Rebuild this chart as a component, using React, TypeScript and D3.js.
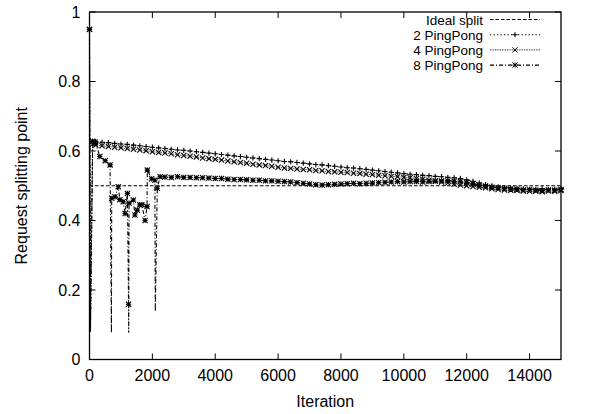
import React from "react";
import * as d3 from "d3";

// Iterations sampled by the benchmark (after the warm-up points)
const iterGrid = d3.range(200, 15001, 200);
const warmupIters = [0, 30, 100];
const warmup2 = [0.95, 0.08, 0.628];
const warmup4 = [0.95, 0.08, 0.62];

const pingPong2 = [
  0.627, 0.625, 0.624, 0.622, 0.62, 0.619, 0.617, 0.615, 0.613, 0.611,
  0.609, 0.607, 0.605, 0.603, 0.602, 0.6, 0.598, 0.596, 0.594, 0.592,
  0.59, 0.588, 0.586, 0.584, 0.582, 0.58, 0.578, 0.576, 0.574, 0.572,
  0.57, 0.569, 0.567, 0.565, 0.563, 0.561, 0.56, 0.558, 0.556, 0.554,
  0.552, 0.551, 0.549, 0.547, 0.545, 0.543, 0.541, 0.539, 0.537, 0.535,
  0.533, 0.532, 0.53, 0.529, 0.527, 0.526, 0.524, 0.523, 0.521, 0.517,
  0.513, 0.508, 0.503, 0.5, 0.497, 0.495, 0.493, 0.492, 0.491, 0.49,
  0.489, 0.491, 0.489, 0.49, 0.491,
];

const pingPong4 = [
  0.617, 0.615, 0.613, 0.611, 0.609, 0.607, 0.605, 0.603, 0.601, 0.598,
  0.596, 0.594, 0.592, 0.589, 0.587, 0.585, 0.583, 0.58, 0.578, 0.576,
  0.574, 0.571, 0.569, 0.567, 0.565, 0.562, 0.56, 0.558, 0.556, 0.553,
  0.551, 0.55, 0.548, 0.547, 0.546, 0.544, 0.543, 0.541, 0.54, 0.539,
  0.538, 0.536, 0.535, 0.533, 0.532, 0.53, 0.529, 0.527, 0.526, 0.524,
  0.523, 0.521, 0.519, 0.516, 0.514, 0.511, 0.508, 0.505, 0.502, 0.5,
  0.498, 0.496, 0.494, 0.491, 0.489, 0.488, 0.487, 0.486, 0.485, 0.484,
  0.484, 0.483, 0.485, 0.484, 0.486,
];

// 8 PingPong is unstable early on, so its first iterations are irregular
const pingPong8EarlyIters = [
  0, 30, 100, 180, 330, 500, 655, 697, 707, 810, 915, 967, 1071, 1133, 1206,
  1243, 1248, 1258, 1394, 1445, 1518, 1602, 1664, 1768, 1830, 1840, 1976, 2080,
  2093, 2157, 2245,
];
const pingPong8EarlyValues = [
  0.95, 0.08, 0.628, 0.625, 0.584, 0.572, 0.56, 0.077, 0.464, 0.468, 0.497,
  0.46, 0.454, 0.42, 0.478, 0.159, 0.077, 0.45, 0.459, 0.416, 0.43, 0.445,
  0.445, 0.4, 0.44, 0.545, 0.52, 0.516, 0.138, 0.493, 0.526,
];
const pingPong8Iters = d3.range(2400, 15001, 200);
const pingPong8 = [
  0.525, 0.524, 0.526, 0.524, 0.524, 0.523, 0.523, 0.522, 0.521,
  0.521, 0.519, 0.518, 0.518, 0.517, 0.516, 0.516, 0.514, 0.514, 0.513,
  0.512, 0.511, 0.509, 0.507, 0.505, 0.503, 0.502, 0.503, 0.504, 0.505,
  0.506, 0.507, 0.506, 0.507, 0.508, 0.509, 0.51, 0.511, 0.512, 0.511,
  0.512, 0.512, 0.511, 0.512, 0.513, 0.514, 0.514, 0.513, 0.513, 0.51,
  0.506, 0.502, 0.499, 0.496, 0.494, 0.492, 0.491, 0.49, 0.488, 0.489,
  0.487, 0.486, 0.488, 0.487, 0.489,
];

const idealSplit = 0.5;
const xTicks = [0, 2000, 4000, 6000, 8000, 10000, 12000, 14000];
const yTicks = [0, 0.2, 0.4, 0.6, 0.8, 1];

type Pt = [number, number];
const zip = (xs: number[], ys: number[]): Pt[] =>
  ys.map((v, i) => [xs[i], v] as Pt);

const width = 593,
  height = 414,
  margin = { top: 12, left: 89.5, right: 32, bottom: 54.5 };

const font = "'Liberation Sans', Arial, Helvetica, sans-serif";

function marker(kind: string, cx: number, cy: number, r: number) {
  const plus = `M${cx - r},${cy}H${cx + r}M${cx},${cy - r}V${cy + r}`;
  const cross = `M${cx - r},${cy - r}L${cx + r},${cy + r}M${cx - r},${cy + r}L${cx + r},${cy - r}`;
  if (kind === "plus") return plus;
  if (kind === "cross") return cross;
  return plus + cross;
}

export default function App() {
  const x = d3
    .scaleLinear()
    .domain([0, 15000])
    .range([margin.left, width - margin.right]);
  const y = d3
    .scaleLinear()
    .domain([0, 1])
    .range([height - margin.bottom, margin.top]);

  const line = d3
    .line<Pt>()
    .x((d) => x(d[0]))
    .y((d) => y(d[1]));

  const series = [
    {
      name: "2 PingPong",
      data: zip(warmupIters, warmup2).concat(zip(iterGrid, pingPong2)),
      dash: "1.3,2.2",
      width: 1.1,
      marker: "plus",
    },
    {
      name: "4 PingPong",
      data: zip(warmupIters, warmup4).concat(zip(iterGrid, pingPong4)),
      dash: "0.8,0.9",
      width: 1,
      marker: "cross",
    },
    {
      name: "8 PingPong",
      data: zip(pingPong8EarlyIters, pingPong8EarlyValues).concat(
        zip(pingPong8Iters, pingPong8)
      ),
      dash: "4,2,1,2",
      width: 1.1,
      marker: "star",
    },
  ];

  const x0 = x.range()[0],
    x1 = x.range()[1],
    y0 = y.range()[0],
    y1 = y.range()[1];
  const tickLen = 6;
  const legendRows = [19.5, 34.7, 49.9, 65.1];
  const legendTextX = 483,
    legendLine = [490, 540],
    legendFont = 13.5;

  return (
    <svg
      width={width}
      height={height}
      style={{ position: "absolute", left: 0, top: 0, background: "#fff" }}
      fontFamily={font}
    >
      <rect width={width} height={height} fill="#fff" />

      {/* Ideal split */}
      <line
        x1={x(0)}
        x2={x(15000)}
        y1={y(idealSplit)}
        y2={y(idealSplit)}
        stroke="#000"
        strokeWidth={1}
        strokeDasharray="3.5,2"
      />

      {series.map((s) => (
        <g key={s.name}>
          <path
            d={line(s.data) || ""}
            fill="none"
            stroke="#000"
            strokeWidth={s.width}
            strokeDasharray={s.dash}
          />
          {/* the bottoms of the sudden drops carry no point symbol */}
          <path
            d={s.data
              .filter((d) => d[1] >= 0.15)
              .map((d) => marker(s.marker, x(d[0]), y(d[1]), 2.6))
              .join("")}
            fill="none"
            stroke="#000"
            strokeWidth={1.1}
          />
        </g>
      ))}

      {/* Frame */}
      <rect
        x={x0}
        y={y1}
        width={x1 - x0}
        height={y0 - y1}
        fill="none"
        stroke="#000"
        strokeWidth={1.3}
      />

      {/* X ticks */}
      {xTicks.map((t) => (
        <g key={"x" + t}>
          <line x1={x(t)} x2={x(t)} y1={y0} y2={y0 - tickLen} stroke="#000" />
          <line x1={x(t)} x2={x(t)} y1={y1} y2={y1 + tickLen} stroke="#000" />
          <text x={x(t)} y={y0 + 21} fontSize={16} textAnchor="middle">
            {t}
          </text>
        </g>
      ))}

      {/* Y ticks */}
      {yTicks.map((t) => (
        <g key={"y" + t}>
          <line x1={x0} x2={x0 + tickLen} y1={y(t)} y2={y(t)} stroke="#000" />
          <line x1={x1} x2={x1 - tickLen} y1={y(t)} y2={y(t)} stroke="#000" />
          <text x={x0 - 9} y={y(t) + 5.5} fontSize={16} textAnchor="end">
            {t}
          </text>
        </g>
      ))}

      {/* Axis titles */}
      <text x={(x0 + x1) / 2} y={407} fontSize={16} textAnchor="middle">
        Iteration
      </text>
      <text
        transform={`translate(27, ${(y0 + y1) / 2}) rotate(-90)`}
        fontSize={16}
        textAnchor="middle"
      >
        Request splitting point
      </text>

      {/* Legend */}
      <g>
        <text
          x={legendTextX}
          y={legendRows[0] + 5}
          fontSize={legendFont}
          textAnchor="end"
        >
          Ideal split
        </text>
        <line
          x1={legendLine[0]}
          x2={legendLine[1]}
          y1={legendRows[0]}
          y2={legendRows[0]}
          stroke="#000"
          strokeDasharray="3.5,2"
        />
        {series.map((s, i) => (
          <g key={"leg" + s.name}>
            <text
              x={legendTextX}
              y={legendRows[i + 1] + 5}
              fontSize={legendFont}
              textAnchor="end"
            >
              {s.name}
            </text>
            <line
              x1={legendLine[0]}
              x2={legendLine[1]}
              y1={legendRows[i + 1]}
              y2={legendRows[i + 1]}
              stroke="#000"
              strokeWidth={s.width}
              strokeDasharray={s.dash}
            />
            <path
              d={marker(
                s.marker,
                (legendLine[0] + legendLine[1]) / 2,
                legendRows[i + 1],
                2.6
              )}
              stroke="#000"
              fill="none"
            />
          </g>
        ))}
      </g>
    </svg>
  );
}
